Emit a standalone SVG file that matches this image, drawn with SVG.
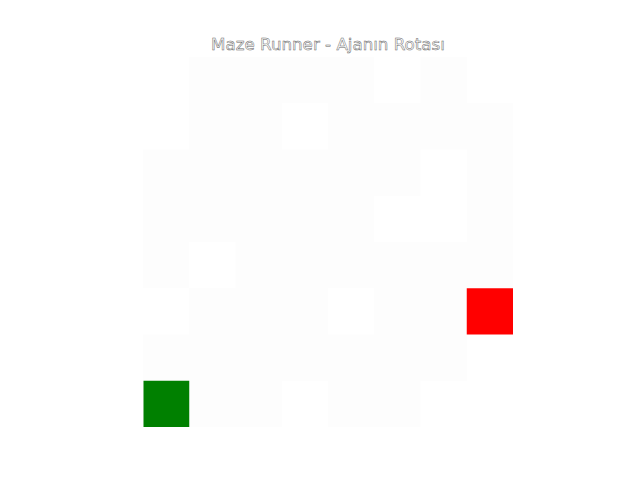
<svg xmlns="http://www.w3.org/2000/svg" width="640" height="480" viewBox="0 0 640 480">
<style>
.o{fill:#fdfdfd}
.w{fill:#ffffff}
.title{font-family:"DejaVu Sans",sans-serif;font-size:16.7px;fill:#ffffff;stroke:#666;stroke-width:0.5}
</style>
<rect width="640" height="480" fill="#ffffff"/>
<g id="grid">
<rect class="o" x="143" y="57" width="370" height="370"/>
<rect class="w" x="143" y="57" width="46.25" height="92.5"/>
<rect class="w" x="374.25" y="57" width="46.25" height="46.25"/>
<rect class="w" x="466.75" y="57" width="46.25" height="46.25"/>
<rect class="w" x="281.75" y="103.25" width="46.25" height="46.25"/>
<rect class="w" x="420.5" y="149.5" width="46.25" height="92.5"/>
<rect class="w" x="374.25" y="195.75" width="46.25" height="46.25"/>
<rect class="w" x="189.25" y="242" width="46.25" height="46.25"/>
<rect class="w" x="143" y="288.25" width="46.25" height="46.25"/>
<rect class="w" x="328" y="288.25" width="46.25" height="46.25"/>
<rect class="w" x="466.75" y="334.5" width="46.25" height="46.25"/>
<rect class="w" x="281.75" y="380.75" width="46.25" height="46.25"/>
<rect class="w" x="420.5" y="380.75" width="92.5" height="46.25"/>
</g>
<g id="start"><rect x="143.5" y="380.75" width="45.75" height="46.25" fill="#008000"/></g>
<g id="goal"><rect x="466.75" y="288.25" width="46.25" height="46.25" fill="#ff0000"/></g>
<g id="connectors"></g>
<text class="title" x="328" y="50" text-anchor="middle">Maze Runner - Ajanın Rotası</text>
</svg>
